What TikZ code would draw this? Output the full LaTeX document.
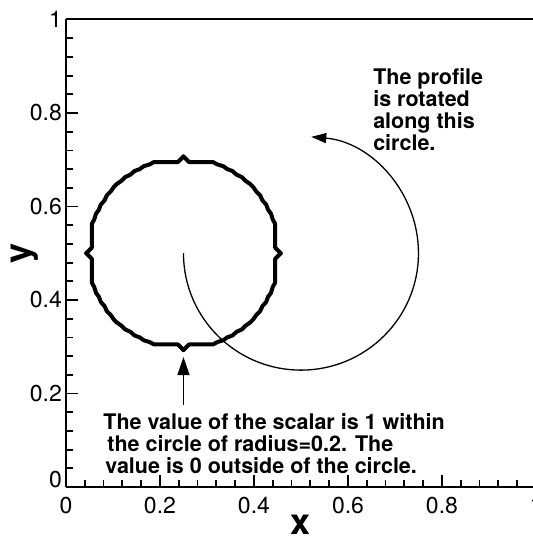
\documentclass[tikz,border=0pt]{standalone}
\usepackage{fontspec}
\setmainfont{TeX Gyre Heros}
\usetikzlibrary{arrows.meta}

\begin{document}
\begin{tikzpicture}[x=235pt, y=233.75pt,
  every node/.style={inner sep=0pt},
  axisline/.style={line width=1.3pt},
  tickline/.style={line width=0.9pt},
  contour/.style={line width=2pt, line join=round, line cap=round},
  rotarc/.style={line width=0.65pt, -{Triangle[length=7.5pt,width=5pt]}},
  ptrarrow/.style={line width=0.7pt, -{Triangle[length=9pt,width=6pt]}},
  note/.style={font=\fontsize{10.75}{11}\selectfont\bfseries, align=left},
  ticklab/.style={font=\fontsize{11.5}{12}\selectfont},
  axlab/.style={font=\fontsize{18}{18}\selectfont\bfseries}]
\useasboundingbox (-0.1404,-0.1091) rectangle (0.9936,1.0417);
% frame and axes
\draw[line width=1pt] (0,1)--(1,1);
\draw[axisline] (0,0)--(0,1);
\draw[axisline] (0,0)--(1,0);
% minor and major ticks (inward)
\foreach \i in {1,...,24} {
  \draw[tickline] (\i*0.04,0)--++(0pt,3.5pt);
  \draw[tickline] (0,\i*0.04)--++(3.5pt,0pt);
}
\foreach \i in {1,...,5} {
  \draw[tickline] (\i*0.2,0)--++(0pt,6pt);
  \draw[tickline] (0,\i*0.2)--++(6pt,0pt);
}
% tick labels
\foreach \v [count=\i] in {0,0.2,0.4,0.6,0.8,1}
  \node[ticklab, anchor=north] (xt\i) at (\v,-0.021) {\v};
\foreach \v [count=\i] in {0.2,0.4,0.6,0.8,1}
  \node[ticklab, anchor=east] (yt\i) at (-0.008,\v) {\v};
\node[ticklab, anchor=east] (yt0) at (-0.008,0.015) {0};
\node[axlab] (xname) at (0.5,-0.081) {x};
\node[axlab, rotate=90] (yname) at (-0.087,0.5) {y};
% the scalar profile, radius 0.2
\foreach \sx/\sy in {1/1,-1/1,-1/-1,1/-1}
  \draw[contour, shift={(0.25,0.5)}, xscale=\sx, yscale=\sy]
    (0,0.207) -- (0.012,0.195) -- (0.063,0.195) -- (0.072,0.19) -- (0.085,0.186)
    -- (0.093,0.18) -- (0.104,0.176) -- (0.113,0.168) -- (0.124,0.163) -- (0.132,0.155)
    -- (0.142,0.148) -- (0.148,0.142) -- (0.155,0.132) -- (0.163,0.124) -- (0.168,0.113)
    -- (0.176,0.104) -- (0.18,0.093) -- (0.186,0.085) -- (0.19,0.072) -- (0.195,0.063)
    -- (0.195,0.012) -- (0.207,0);
% rotation path
\coordinate (arcstart) at (0.25,0.5);
\draw[rotarc] (arcstart) arc[start angle=180, end angle=445, radius=0.25];
\node[note, anchor=north west] (proftxt) at (0.653,0.896) {The profile\\is rotated\\along this\\circle.};
% pointer to the profile
\node[note, anchor=north west] (valtxt) at (0.0787,0.158)
  {The value of the scalar is 1 within\\\hspace{2pt}the circle of radius=0.2. The\\\hspace{1pt}value is 0 outside of the circle.};
\coordinate (spikebot) at (0.25,0.278);
\draw[ptrarrow, shorten <=4pt] (valtxt.north -| spikebot) -- (spikebot);
\end{tikzpicture}
\end{document}
